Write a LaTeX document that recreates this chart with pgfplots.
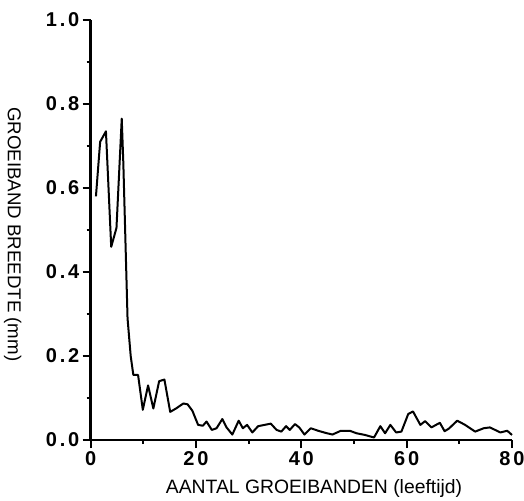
\documentclass[border=0pt]{standalone}
\usepackage{fontspec}
\setmainfont{Liberation Sans}
\newfontfamily\tickfont[LetterSpace=14]{Liberation Sans}
\usepackage{pgfplots}
\pgfplotsset{compat=1.18}

\pgfplotstableread{
x y
1.0 0.580
1.8 0.710
2.9 0.735
3.9 0.460
4.9 0.505
5.9 0.765
6.2 0.660
7.0 0.290
7.6 0.200
8.1 0.155
9.0 0.155
9.9 0.072
10.9 0.130
11.9 0.075
13.0 0.140
14.0 0.144
15.1 0.067
16.2 0.075
17.6 0.087
18.4 0.085
19.3 0.070
20.4 0.036
21.3 0.034
22.0 0.044
23.0 0.024
23.9 0.028
25.0 0.050
25.8 0.030
26.9 0.013
28.1 0.046
28.9 0.028
29.7 0.036
30.7 0.018
31.8 0.033
33.0 0.036
34.2 0.039
35.3 0.024
36.2 0.020
37.1 0.033
37.8 0.024
38.8 0.038
39.6 0.030
40.6 0.013
41.8 0.028
43.2 0.022
44.6 0.017
45.9 0.013
47.5 0.022
49.2 0.022
50.5 0.016
52.1 0.012
53.8 0.006
55.0 0.033
55.9 0.016
56.9 0.036
58.0 0.018
59.0 0.020
60.3 0.062
61.2 0.068
62.6 0.036
63.5 0.045
64.7 0.030
66.3 0.041
67.2 0.021
68.0 0.027
69.6 0.046
71.1 0.036
73.0 0.020
74.6 0.028
75.8 0.030
77.8 0.018
79.1 0.022
80.0 0.012
}\widthdata

\begin{document}
\begin{tikzpicture}
\begin{axis}[
  scale only axis,
  width=316pt,
  height=315pt,
  xmin=0, xmax=80,
  ymin=0, ymax=1,
  axis lines*=left,
  axis line style={line width=1.8pt},
  xtick={0,20,40,60,80},
  xticklabels={0,20,40,60,80},
  ytick={0,0.2,0.4,0.6,0.8,1.0},
  yticklabels={0.0,0.2,0.4,0.6,0.8,1.0},
  minor x tick num=1,
  minor y tick num=1,
  tick align=outside,
  major tick length=6pt,
  minor tick length=3pt,
  every tick/.style={black,line width=1.3pt},
  ticklabel style={font=\tickfont\bfseries\fontsize{15}{17}\selectfont},
  xticklabel style={yshift=1pt},
  yticklabel style={xshift=1pt},
  xlabel={AANTAL GROEIBANDEN  (leeftijd)},
  ylabel={GROEIBAND BREEDTE (mm)},
  xlabel style={font=\fontsize{14.5}{16}\selectfont, at={(axis description cs:0.53,-0.115)}, anchor=center},
  ylabel style={font=\fontsize{14}{16}\selectfont, at={(axis description cs:-0.185,0.49)}, anchor=center, rotate=180},
  clip=false,
]
\addplot[black, line width=1.5pt, line join=round] table[x=x,y=y] {\widthdata};
\end{axis}
\pgfresetboundingbox
\path[use as bounding box] ([xshift=-68pt,yshift=-45pt]current axis.south west) rectangle ([xshift=9pt,yshift=15pt]current axis.north east);
\end{tikzpicture}
\end{document}
